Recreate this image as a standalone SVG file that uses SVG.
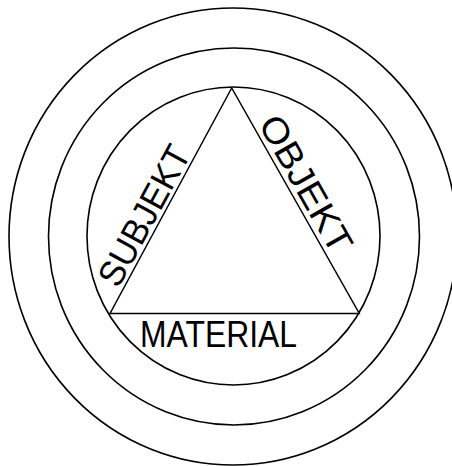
<svg xmlns="http://www.w3.org/2000/svg" width="452" height="466" viewBox="0 0 452 466">
<style>
.ring{fill:none;stroke:#000;stroke-width:1.6}
.edge{fill:none;stroke:#000;stroke-width:1.5}
.lbl{font-family:"Liberation Sans",Arial,sans-serif;font-size:36px;fill:#000}
</style>
<rect width="452" height="466" fill="#fff"/>
<g id="rings">
<ellipse class="ring" cx="233" cy="236.5" rx="224" ry="228.5"/>
<ellipse class="ring" cx="234" cy="236.5" rx="185.5" ry="188.5"/>
<ellipse class="ring" cx="233.5" cy="236" rx="146.5" ry="149"/>
</g>
<g id="triangle">
<polygon class="edge" points="231.7,88 110,313.5 359.3,313.5"/>
</g>
<g id="subjekt">
<text class="lbl" x="155" y="221.4" text-anchor="middle" textLength="154" lengthAdjust="spacingAndGlyphs" transform="rotate(-61.6 155 221.4)">SUBJEKT</text>
</g>
<g id="objekt">
<text class="lbl" x="295.2" y="189.9" text-anchor="middle" textLength="152" lengthAdjust="spacingAndGlyphs" transform="rotate(60.4 295.2 189.9)">OBJEKT</text>
</g>
<g id="material">
<text class="lbl" x="140" y="347" textLength="157" lengthAdjust="spacingAndGlyphs">MATERIAL</text>
</g>
</svg>
